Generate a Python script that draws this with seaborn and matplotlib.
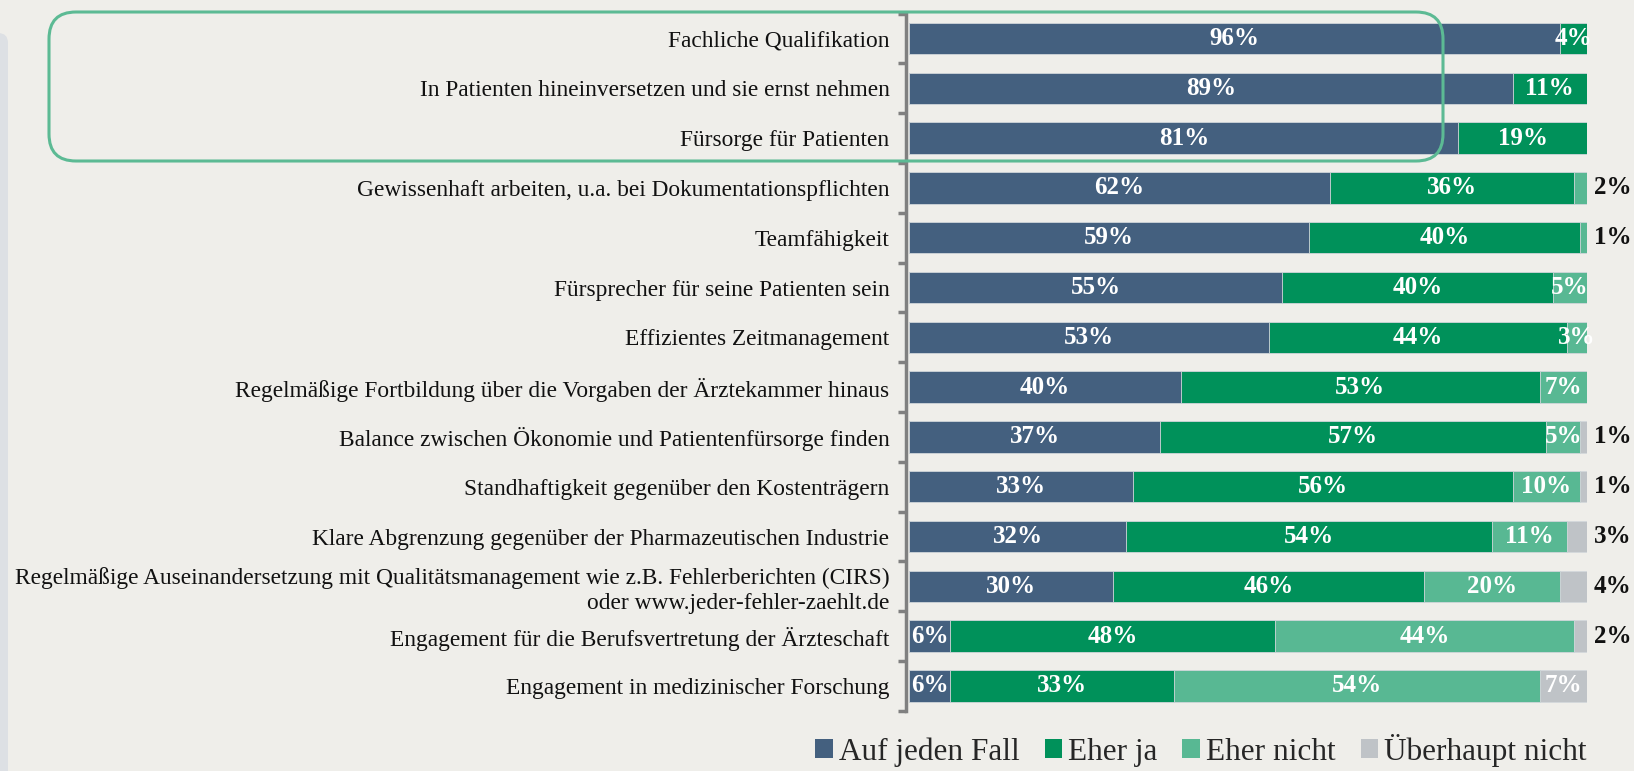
import numpy as np
import pandas as pd
import matplotlib.pyplot as plt
import seaborn as sns
from matplotlib.patches import FancyBboxPatch, Patch

categories = [
    "Fachliche Qualifikation",
    "In Patienten hineinversetzen und sie ernst nehmen",
    "Fürsorge für Patienten",
    "Gewissenhaft arbeiten, u.a. bei Dokumentationspflichten",
    "Teamfähigkeit",
    "Fürsprecher für seine Patienten sein",
    "Effizientes Zeitmanagement",
    "Regelmäßige Fortbildung über die Vorgaben der Ärztekammer hinaus",
    "Balance zwischen Ökonomie und Patientenfürsorge finden",
    "Standhaftigkeit gegenüber den Kostenträgern",
    "Klare Abgrenzung gegenüber der Pharmazeutischen Industrie",
    "Regelmäßige Auseinandersetzung mit Qualitätsmanagement wie z.B. Fehlerberichten (CIRS)\noder www.jeder-fehler-zaehlt.de",
    "Engagement für die Berufsvertretung der Ärzteschaft",
    "Engagement in medizinischer Forschung",
]
auf_jeden_fall = [96, 89, 81, 62, 59, 55, 53, 40, 37, 33, 32, 30, 6, 6]
eher_ja = [4, 11, 19, 36, 40, 40, 44, 53, 57, 56, 54, 46, 48, 33]
eher_nicht = [0, 0, 0, 2, 1, 5, 3, 7, 5, 10, 11, 20, 44, 54]
ueberhaupt_nicht = [0, 0, 0, 0, 0, 0, 0, 0, 1, 1, 3, 4, 2, 7]
series_names = ["Auf jeden Fall", "Eher ja", "Eher nicht", "Überhaupt nicht"]

# labels that sit right of the bar in black
outside = [(3, 2), (4, 2), (8, 3), (9, 3), (10, 3), (11, 3), (12, 3)]

colors = ["#44607f", "#00915a", "#58b893", "#bfc3c7"]
bg = "#efeeea"

df = pd.DataFrame({
    "Kategorie": categories,
    "Auf jeden Fall": auf_jeden_fall,
    "Eher ja": eher_ja,
    "Eher nicht": eher_nicht,
    "Überhaupt nicht": ueberhaupt_nicht,
})
values = df[series_names].to_numpy()
cum = values.cumsum(axis=1)

sns.set_theme(style="white")
plt.rcParams["font.family"] = ["Liberation Serif", "DejaVu Serif"]

fig = plt.figure(figsize=(16.34, 7.71), dpi=100, facecolor=bg)
ax = fig.add_axes([0.5545, 0.078, 0.4168, 0.9044])
ax.set_facecolor(bg)

# stacked bars: draw cumulative totals from the back to the front
for i in range(3, -1, -1):
    sns.barplot(x=cum[:, i], y=df["Kategorie"], orient="h", color=colors[i],
                saturation=1, width=0.63, errorbar=None, ax=ax,
                edgecolor="#d4d8dc", linewidth=0.6)

for r in range(len(categories)):
    for s in range(4):
        v = values[r, s]
        if v == 0:
            continue
        if (r, s) in outside:
            ax.text(101.0, r, f"{v}%", ha="left", va="center", color="#111111",
                    fontsize=18, fontweight="bold", clip_on=False)
        else:
            ax.text(cum[r, s] - v / 2, r, f"{v}%", ha="center", va="center",
                    color="white", fontsize=18, fontweight="bold")

ax.set_xlim(-0.5, 100)
ax.set_ylim(13.5, -0.5)
ax.set_xlabel("")
ax.set_ylabel("")
ax.set_xticks([])
for side in ["top", "right", "bottom"]:
    ax.spines[side].set_visible(False)
ax.spines["left"].set_color("#808080")
ax.spines["left"].set_linewidth(2.5)
ax.tick_params(axis="y", which="major", length=0, pad=12, labelsize=16.8,
               labelcolor="#111111")
ax.set_yticks(np.arange(-0.5, 14, 1), minor=True)
ax.tick_params(axis="y", which="minor", left=True, length=6, width=2.5,
               color="#808080", direction="out")

# highlight box round the top three rows
box = FancyBboxPatch((0.49, 6.10), 13.94, 1.49,
                     boxstyle="round,pad=0,rounding_size=0.27",
                     transform=fig.dpi_scale_trans, fill=False,
                     edgecolor="#5cba94", linewidth=2.2)
fig.add_artist(box)

# grey strip on the left edge
strip = FancyBboxPatch((-0.3, -0.3), 0.38, 7.68,
                       boxstyle="round,pad=0,rounding_size=0.1",
                       transform=fig.dpi_scale_trans,
                       facecolor="#dde0e4", edgecolor="none")
fig.add_artist(strip)

handles = [Patch(facecolor=c, edgecolor="none") for c in colors]
fig.legend(handles, series_names, loc="center", bbox_to_anchor=(0.735, 0.027),
           ncol=4, frameon=False, fontsize=22.5, handlelength=0.55,
           handleheight=0.55, handletextpad=0.2, columnspacing=0.8)

fig.savefig("out.png", dpi=100, facecolor=bg)
